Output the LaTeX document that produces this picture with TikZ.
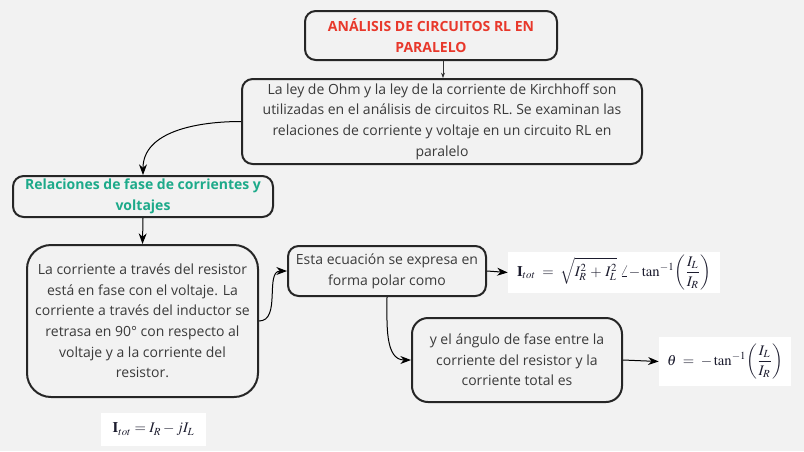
\documentclass[tikz,border=0pt]{standalone}
\usepackage{amsmath}
\usepackage{mathptmx}
\usepackage[no-math]{fontspec}
\setmainfont{Open Sans}
\usetikzlibrary{arrows.meta, positioning}
\definecolor{bgcol}{HTML}{F2F2F2}
\definecolor{txtcol}{HTML}{3A3A3A}
\definecolor{titlecol}{HTML}{E8382B}
\definecolor{subcol}{HTML}{1DAA8A}
\definecolor{eqcol}{HTML}{1C1C2E}

\begin{document}
\begin{tikzpicture}[
    x=0.75pt, y=-0.75pt,
    box/.style={rectangle, draw=black!85, fill=bgcol, line width=1.5pt, rounded corners=8pt, align=center, text=txtcol, font=\fontsize{10.5}{15.5}\selectfont, inner sep=0pt},
    title/.style={box, text=titlecol, font=\bfseries\fontsize{10.5}{15.5}\selectfont},
    subtitle/.style={box, text=subcol, font=\bfseries\fontsize{10.5}{15.5}\selectfont},
    eqn/.style={rectangle, fill=white, text=eqcol, inner sep=0pt, font=\fontsize{11}{13}\selectfont},
    arrow/.style={-{Stealth[length=8pt, width=6pt]}, line width=0.75pt, black},
    smallarrow/.style={-{Stealth[length=4pt, width=3pt]}, line width=0.6pt, black!80}
]
    \useasboundingbox[fill=bgcol] (0,0) rectangle (804,451);

    % Title and introduction
    \node[title, minimum width=252*0.75pt, minimum height=49*0.75pt] (titulo) at (431,35.5) {ANÁLISIS DE CIRCUITOS RL EN\\PARALELO};
    \node[box, minimum width=400*0.75pt, minimum height=85*0.75pt] (ohm) at (442,121.5) {La ley de Ohm y la ley de la corriente de Kirchhoff son\\utilizadas en el análisis de circuitos RL. Se examinan las\\relaciones de corriente y voltaje en un circuito RL en\\paralelo};

    % Phase relations
    \node[subtitle, minimum width=260*0.75pt, minimum height=41*0.75pt] (fase) at (143,196.5) {Relaciones de fase de corrientes y\\voltajes};
    \node[box, rounded corners=18pt, minimum width=231*0.75pt, minimum height=152*0.75pt] (corriente) at (142.5,321) {La corriente a través del resistor\\está en fase con el voltaje. La\\corriente a través del inductor se\\retrasa en 90° con respecto al\\voltaje y a la corriente del\\resistor.};
    \node[box, minimum width=198*0.75pt, minimum height=50*0.75pt] (polar) at (387,271) {Esta ecuación se expresa en\\forma polar como};
    \node[box, rounded corners=12pt, minimum width=210*0.75pt, minimum height=84*0.75pt] (angulo) at (517,360) {y el ángulo de fase entre la\\corriente del resistor y la\\corriente total es};

    % Equations
    \node[eqn, minimum width=212*0.75pt, minimum height=41*0.75pt] (eqpolar) at (614,272.5) {$\mathbf{I}_{tot} \;=\; \sqrt{I_R^2 \,+\, I_L^2}\;\angle{-\tan^{-1}}\!\left(\dfrac{I_L}{I_R}\right)$};
    \node[eqn, minimum width=132*0.75pt, minimum height=49*0.75pt] (eqfase) at (725,361.5) {$\theta \;=\; -\tan^{-1}\!\left(\dfrac{I_L}{I_R}\right)$};
    \node[eqn, minimum width=105*0.75pt, minimum height=33*0.75pt] (eqrect) at (153.5,429.5) {$\mathbf{I}_{tot} = I_R - jI_L$};

    % Connectors
    \draw[smallarrow] (titulo.south -| 443,0) -- (ohm.north -| 443,0);
    \draw[arrow] (ohm.west) to[out=180, in=90] (fase.north);
    \draw[arrow] (fase.south) -- (corriente.north);
    \draw[arrow] (corriente.east) to[out=0, in=180] (polar.west);
    \draw[arrow] (polar.south) to[out=-90, in=180] (angulo.west);
    \draw[arrow] (polar.east) -- (eqpolar.west);
    \draw[arrow] (angulo.east) -- (eqfase.west);

\end{tikzpicture}
\end{document}
